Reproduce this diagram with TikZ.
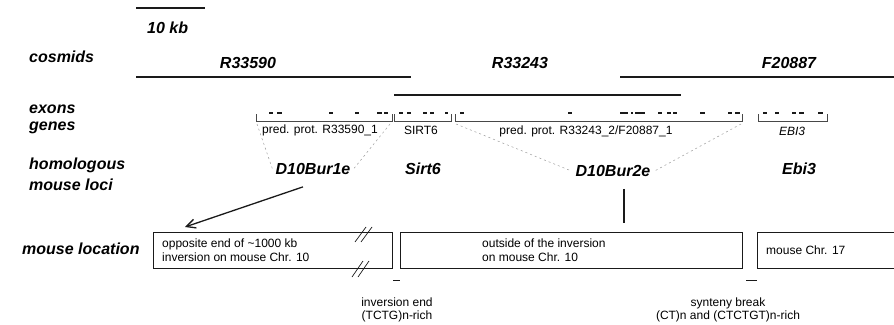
\documentclass[tikz,border=0pt]{standalone}
\usepackage{fontspec}
\setmainfont{Liberation Sans}
\usetikzlibrary{arrows.meta,positioning}
\definecolor{ink}{HTML}{1A1A1A}
\definecolor{guide}{HTML}{9A9A9A}

\begin{document}
\begin{tikzpicture}[x=1pt,y=-1pt,
  rowlab/.style={font=\fontsize{16}{18}\selectfont\bfseries\itshape,anchor=west,inner sep=0pt},
  biglab/.style={font=\fontsize{16}{18}\selectfont\bfseries\itshape,inner sep=0pt},
  small/.style={font=\fontsize{12}{13.5}\selectfont,inner sep=0pt},
  cosmid/.style={ink,line width=1.4pt},
  bracket/.style={ink!80,line width=0.5pt},
  exon/.style={ink,line width=1.4pt},
  guideline/.style={guide,line width=0.5pt,dash pattern=on 2pt off 3pt},
  locbox/.style={draw=ink,line width=0.8pt,minimum height=36pt,anchor=north west,inner sep=0pt}]
  \useasboundingbox (0,0) rectangle (894,324);

  % scale bar
  \draw[cosmid] (136,8) -- (205,8);
  \node[rowlab] (kb) at (147,28) {10 kb};

  % row labels
  \node[rowlab] (lcos) at (29,57) {cosmids};
  \node[rowlab] (lexo) at (29,109) {exons};
  \node[rowlab] (lgen) at (29,128) {genes};
  \node[rowlab] (lhom) at (29,165) {homologous};
  \node[rowlab] (lmlo) at (29,185) {mouse loci};
  \node[rowlab] (lloc) at (22,249) {mouse location};

  % cosmids
  \node[biglab] (c1) at (248,63) {R33590};
  \node[biglab] (c2) at (520,63) {R33243};
  \node[biglab] (c3) at (789,63) {F20887};
  \draw[cosmid] (136,77) -- (411,77);
  \draw[cosmid] (394,95) -- (681,95);
  \draw[cosmid] (620,77) -- (900,77);

  % gene brackets and exons
  \draw[bracket] (256,114) |- (392,121) -- (392,114);
  \draw[bracket] (394,114) |- (451,121) -- (451,114);
  \draw[bracket] (455,114) |- (742,121) -- (742,114);
  \draw[bracket] (758,114) |- (827,121) -- (827,114);
  \foreach \a/\b in {269/273,277/282,329/333,355/359,377/382,384/388,
                     399/403,407/411,423/427,430/434,445/448,
                     460/464,568/572,620/628,631/633,635/645,658/662,667/671,673/677,700/705,728/732,735/740,
                     763/767,775/779,792/796,799/804,818/823}
    \draw[exon] (\a,113) -- (\b,113);
  \coordinate (g1l) at (257,124);
  \coordinate (g1r) at (390,124);
  \coordinate (g3l) at (456,124);
  \coordinate (g3r) at (741,124);

  % gene names
  \node[small] (g1) at (320,130) {pred. prot. R33590\_1};
  \node[small] (g2) at (421,130) {SIRT6};
  \node[small] (g3) at (586,131) {pred. prot. R33243\_2/F20887\_1};
  \node[small,font=\fontsize{12}{13.5}\selectfont\itshape] (g4) at (792,131) {EBI3};

  % homologous mouse loci
  \node[biglab] (d1) at (313,169) {D10Bur1e};
  \node[biglab] (s6) at (423,169) {Sirt6};
  \node[biglab] (d2) at (613,171) {D10Bur2e};
  \node[biglab] (eb) at (799,169) {Ebi3};
  \draw[guideline] (g1l) -- ([xshift=-3pt]d1.west);
  \draw[guideline] (g1r) -- ([xshift=3pt]d1.east);
  \draw[guideline] (g3l) -- ([xshift=-4pt]d2.west);
  \draw[guideline] (g3r) -- ([xshift=4pt]d2.east);

  % mouse location
  \node[locbox,minimum width=239pt] (loc1) at (153,232) {};
  \node[locbox,minimum width=342pt] (loc2) at (400,232) {};
  \node[locbox,minimum width=160pt] (loc3) at (757,232) {};
  \node[small,anchor=west,align=left] (t1) at (162,250) {opposite end of \textasciitilde 1000 kb\\inversion on mouse Chr. 10};
  \node[small,anchor=west,align=left] (t2) at (482,250) {outside of the inversion\\on mouse Chr. 10};
  \node[small,anchor=west] (t3) at (766,250) {mouse Chr. 17};
  \foreach \dx in {0,6} {
    \draw[ink,line width=0.7pt] (355+\dx,242) -- (366+\dx,227);
    \draw[ink,line width=0.7pt] (352+\dx,277) -- (363+\dx,261);
  }

  % arrows from loci
  \coordinate (tip1) at (185,227);
  \coordinate (d2foot) at (624,223);
  \draw[ink,line width=1.3pt,-{Straight Barb[length=9pt,width=9pt]}] ([xshift=-10pt,yshift=-12pt]d1.south) -- (tip1);
  \draw[ink,line width=1.1pt] ([yshift=-12pt]d2foot |- d2.south) -- (d2foot);

  % breakpoints
  \draw[ink,line width=1pt] (393,280) -- (400,280);
  \draw[ink,line width=1pt] (746,280) -- (757,280);
  \node[small,align=center] (invend) at (397,310) {inversion end\\(TCTG)n-rich};
  \node[small,align=center] (synbr) at (728,310) {synteny break\\(CT)n and (CTCTGT)n-rich};
\end{tikzpicture}
\end{document}
